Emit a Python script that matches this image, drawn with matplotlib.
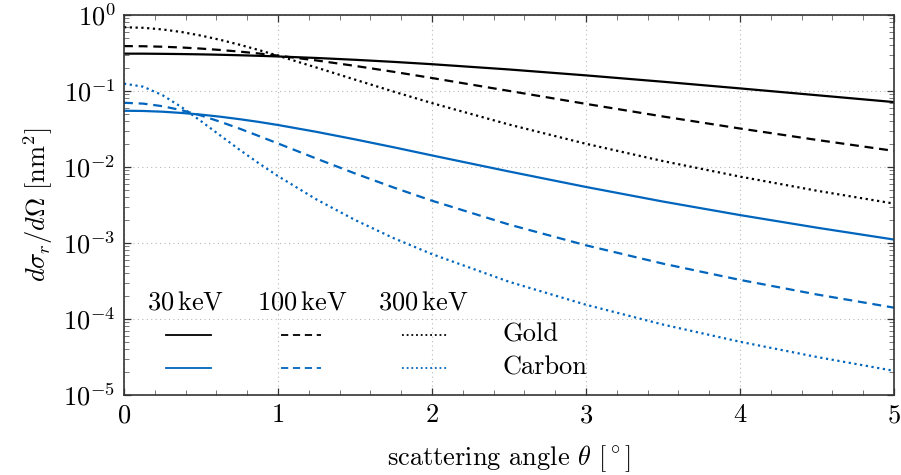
import numpy as np
import matplotlib
matplotlib.use("Agg")
import matplotlib.pyplot as plt
from matplotlib.ticker import LogLocator, MultipleLocator, NullFormatter

plt.rcParams["font.family"] = "serif"
plt.rcParams["font.serif"] = ["cmr10", "DejaVu Serif"]
plt.rcParams["mathtext.fontset"] = "cm"
plt.rcParams["axes.formatter.use_mathtext"] = True
plt.rcParams["axes.unicode_minus"] = False

# scattering angle grid (degrees)
theta = [0, 0.125, 0.25, 0.375, 0.5, 0.625, 0.75, 0.875, 1.0, 1.25, 1.5, 1.75,
         2.0, 2.5, 3.0, 3.5, 4.0, 4.5, 5.0]

# differential cross sections in nm^2
gold_30 = [0.310, 0.3099, 0.3083, 0.3062, 0.3034, 0.2998, 0.2954, 0.2904, 0.2848,
           0.272, 0.2574, 0.2417, 0.2252, 0.192, 0.1605, 0.1324, 0.1082, 0.0880, 0.0715]
gold_100 = [0.390, 0.388, 0.3825, 0.3735, 0.3614, 0.3466, 0.3298, 0.3115, 0.292,
            0.2524, 0.214, 0.179, 0.1482, 0.1003, 0.0677, 0.0462, 0.0321, 0.0227, 0.0163]
gold_300 = [0.690, 0.6785, 0.6458, 0.5964, 0.536, 0.471, 0.4065, 0.346, 0.2915,
            0.2035, 0.1411, 0.0983, 0.0693, 0.0362, 0.0202, 0.01196, 0.00747, 0.00487, 0.0033]
carbon_30 = [0.055, 0.0546, 0.0534, 0.0514, 0.0489, 0.0459, 0.0426, 0.0392, 0.0357,
             0.029, 0.0231, 0.0182, 0.0142, 0.00873, 0.00546, 0.00351, 0.00233, 0.00159, 0.00111]
carbon_100 = [0.070, 0.0682, 0.0631, 0.0558, 0.0476, 0.0394, 0.032, 0.0256, 0.0204,
              0.01288, 0.00823, 0.00538, 0.0036, 0.00175, 0.000932, 0.000535, 0.000327,
              0.00021, 0.000141]
carbon_300 = [0.125, 0.1139, 0.0881, 0.0611, 0.0401, 0.026, 0.0169, 0.0112, 0.00759,
              0.00374, 0.00201, 0.00116, 0.000714, 0.000309, 0.000154, 8.45e-5, 5.02e-5,
              3.16e-5, 2.08e-5]

energies = [r"$30\,\mathrm{keV}$", r"$100\,\mathrm{keV}$", r"$300\,\mathrm{keV}$"]
materials = ["Gold", "Carbon"]

black = "black"
blue = "#0065bd"
solid = "-"
dashed = (0, (4, 2.6))
dotted = (0, (1, 1.6))

fig = plt.figure(figsize=(9.01, 4.75), dpi=100)
ax = fig.add_axes([124 / 901, 80 / 475, 770 / 901, 380 / 475])

series = [
    (gold_30, black, solid), (gold_100, black, dashed), (gold_300, black, dotted),
    (carbon_30, blue, solid), (carbon_100, blue, dashed), (carbon_300, blue, dotted),
]
for vals, col, ls in series:
    ax.plot(theta, vals, color=col, linestyle=ls, lw=1.6)

ax.set_yscale("log")
ax.set_xlim(0, 5)
ax.set_ylim(1e-5, 1)
ax.xaxis.set_major_locator(MultipleLocator(1))
ax.xaxis.set_minor_locator(MultipleLocator(0.2))
ax.yaxis.set_major_locator(LogLocator(base=10, numticks=10))
ax.yaxis.set_minor_locator(LogLocator(base=10, subs=np.arange(2, 10), numticks=20))
ax.yaxis.set_minor_formatter(NullFormatter())

ax.grid(True, which="major", linestyle=(0, (1, 3)), color="#b8b8b8", lw=0.8)
ax.tick_params(which="both", direction="in", top=True, right=True, labelsize=19,
               color="#333333")
ax.tick_params(which="major", length=5, width=0.9, pad=6)
ax.tick_params(which="minor", length=3.5, width=0.7, color="#777777")
for sp in ax.spines.values():
    sp.set_color("#333333")
    sp.set_linewidth(1.2)

ax.set_xlabel(r"scattering angle $\theta$ $[^\circ]$", fontsize=19, labelpad=12)
ax.set_ylabel(r"$d\sigma_r/d\Omega\ [\mathrm{nm}^2]$", fontsize=19, labelpad=6)

# table-like legend
tr = ax.transAxes
col_x = [0.0805, 0.231, 0.388]
seg = [(0.0545, 0.113), (0.204, 0.256), (0.361, 0.421)]
styles = [solid, dashed, dotted]
row_y = [0.158, 0.071]
colors = [black, blue]
for j, lab in enumerate(energies):
    ax.text(col_x[j], 0.242, lab, transform=tr, ha="center", va="center", fontsize=19)
for i, mat in enumerate(materials):
    for j in range(3):
        ax.plot(seg[j], [row_y[i], row_y[i]], transform=tr, color=colors[i],
                linestyle=styles[j], lw=1.3)
    ax.text(0.492, row_y[i], mat, transform=tr, ha="left", va="center", fontsize=19)

fig.savefig("out.png", dpi=100)
